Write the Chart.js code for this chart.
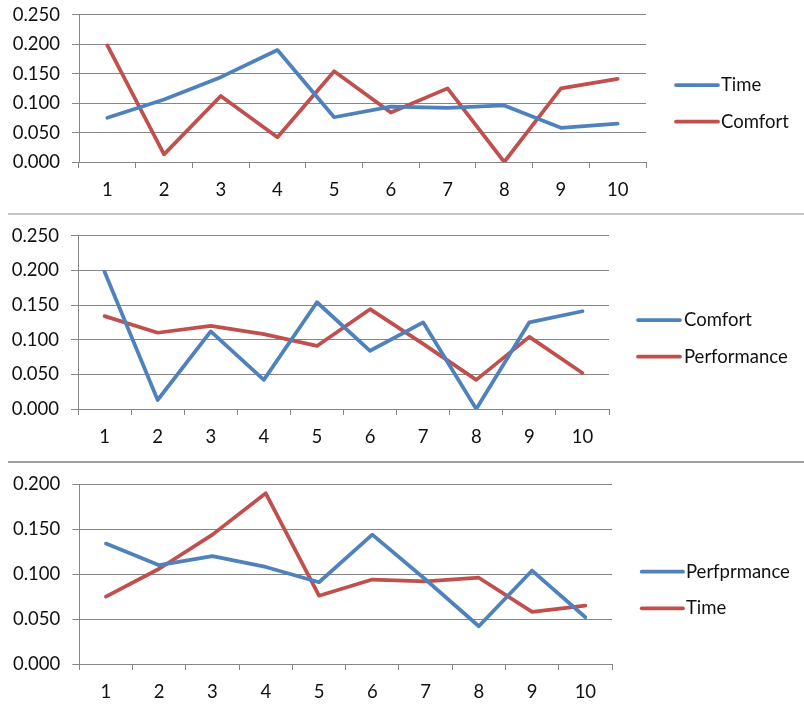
<!DOCTYPE html>
<html>
<head>
<meta charset="utf-8">
<title>Time, Comfort and Performance</title>
<script src="https://cdn.jsdelivr.net/npm/chart.js@4/dist/chart.umd.min.js"></script>
<style>
  html, body { margin: 0; padding: 0; background: #ffffff; }
  #wrap { position: relative; width: 804px; height: 707px; overflow: hidden; background: #ffffff; }
  .panel { position: absolute; left: 0; width: 804px; }
  .rule { position: absolute; left: 8px; right: 0; }
</style>
</head>
<body>
<div id="wrap">
  <div class="panel" style="top:0;height:213px"><canvas id="c1"></canvas></div>
  <div class="rule" style="top:213px;height:2px;background:#c4c4c4"></div>
  <div class="panel" style="top:215px;height:246px"><canvas id="c2"></canvas></div>
  <div class="rule" style="top:461px;height:2px;background:#a0a0a0"></div>
  <div class="panel" style="top:463px;height:244px"><canvas id="c3"></canvas></div>
</div>
<script>
// Trial numbers along the x axis
const categories = ['1', '2', '3', '4', '5', '6', '7', '8', '9', '10'];

// Normalised scores per trial
const time        = [0.075, 0.106, 0.144, 0.190, 0.076, 0.094, 0.092, 0.096, 0.058, 0.065];
const comfort     = [0.198, 0.013, 0.112, 0.042, 0.154, 0.084, 0.125, 0.000, 0.125, 0.141];
const performance = [0.134, 0.110, 0.120, 0.108, 0.091, 0.144, 0.094, 0.042, 0.104, 0.052];

// Value-axis tick labels for each panel
const yTicksTop    = ['0.000', '0.050', '0.100', '0.150', '0.200', '0.250'];
const yTicksMiddle = ['0.000', '0.050', '0.100', '0.150', '0.200', '0.250'];
const yTicksBottom = ['0.000', '0.050', '0.100', '0.150', '0.200'];

const BLUE = '#4f81bd';
const RED = '#c0504d';
const AXIS = '#868686';
const TEXT = '#111111';
const FONT = 'Lato, "Open Sans", sans-serif';
const FONT_SIZE = 18.5;

// Legend drawn to the right of the plot: a short line swatch followed by the series name
const sideLegend = {
  id: 'sideLegend',
  afterDraw(chart, args, opts) {
    const ctx = chart.ctx;
    ctx.save();
    ctx.font = FONT_SIZE + 'px ' + FONT;
    ctx.textBaseline = 'middle';
    ctx.textAlign = 'left';
    chart.data.datasets.forEach((ds, i) => {
      const y = opts.rows[i];
      ctx.beginPath();
      ctx.lineCap = 'round';
      ctx.lineWidth = ds.borderWidth;
      ctx.strokeStyle = ds.borderColor;
      ctx.moveTo(opts.x, y);
      ctx.lineTo(opts.x + opts.len, y);
      ctx.stroke();
      ctx.fillStyle = TEXT;
      ctx.fillText(ds.label, opts.x + opts.len + opts.gap, y);
    });
    ctx.restore();
  }
};

function series(label, values, color) {
  return {
    label: label,
    data: values,
    borderColor: color,
    backgroundColor: color,
    borderWidth: 3.75,
    pointRadius: 0,
    pointHoverRadius: 0,
    tension: 0,
    fill: false,
    borderJoinStyle: 'round',
    borderCapStyle: 'round'
  };
}

function makeChart(id, datasets, tickLabels, max, layout, legend) {
  return new Chart(document.getElementById(id), {
    type: 'line',
    data: { labels: categories, datasets: datasets },
    plugins: [sideLegend],
    options: {
      responsive: true,
      maintainAspectRatio: false,
      animation: false,
      events: [],
      layout: { padding: layout.padding },
      plugins: {
        legend: { display: false },
        tooltip: { enabled: false },
        sideLegend: legend
      },
      scales: {
        x: {
          offset: true,
          grid: {
            offset: true,
            drawOnChartArea: false,
            drawTicks: true,
            tickLength: 6,
            color: AXIS,
            lineWidth: 1
          },
          border: { display: true, color: AXIS, width: 1 },
          ticks: {
            color: TEXT,
            font: { family: FONT, size: FONT_SIZE },
            padding: layout.xPad,
            maxRotation: 0,
            autoSkip: false
          },
          afterFit(scale) { scale.height = layout.xHeight; }
        },
        y: {
          min: 0,
          max: max,
          grid: {
            color: AXIS,
            lineWidth: 1,
            drawTicks: true,
            tickLength: 7
          },
          border: { display: true, color: AXIS, width: 1 },
          ticks: {
            stepSize: 0.05,
            color: TEXT,
            font: { family: FONT, size: FONT_SIZE },
            padding: 12,
            callback(value, index) { return tickLabels[index]; }
          },
          afterFit(scale) {
            scale.width = layout.yWidth;
            // plot edges are set by the layout padding alone
            scale.paddingTop = 0;
            scale.paddingBottom = 0;
          }
        }
      }
    }
  });
}

makeChart('c1',
  [series('Time', time, BLUE), series('Comfort', comfort, RED)],
  yTicksTop, 0.25,
  { padding: { top: 14.7, right: 158, bottom: 11, left: 0 }, xHeight: 40, yWidth: 79, xPad: 10.9 },
  { x: 676, len: 42, gap: 3, rows: [85, 121.7] });

makeChart('c2',
  [series('Comfort', comfort, BLUE), series('Performance', performance, RED)],
  yTicksMiddle, 0.25,
  { padding: { top: 20.7, right: 195, bottom: 12, left: 0 }, xHeight: 40, yWidth: 78, xPad: 10.6 },
  { x: 638, len: 42, gap: 4, rows: [105, 141.7] });

makeChart('c3',
  [series('Perfprmance', performance, BLUE), series('Time', time, RED)],
  yTicksBottom, 0.2,
  { padding: { top: 21.3, right: 192, bottom: 3, left: 0 }, xHeight: 40, yWidth: 79.3, xPad: 10.6 },
  { x: 641.7, len: 41.3, gap: 3, rows: [108.7, 145.3] });
</script>
</body>
</html>
